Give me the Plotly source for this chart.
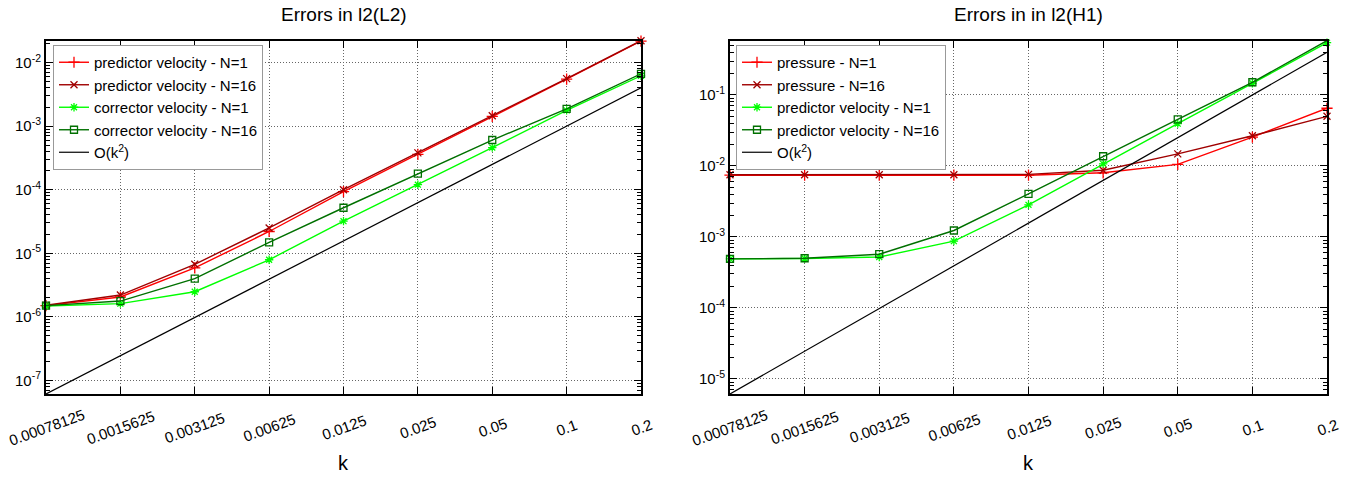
import numpy as np
import plotly.graph_objects as go

# ---------------- data ----------------
k = [0.00078125, 0.0015625, 0.003125, 0.00625, 0.0125, 0.025, 0.05, 0.1, 0.2]
k_labels = ["0.00078125", "0.0015625", "0.003125", "0.00625", "0.0125",
            "0.025", "0.05", "0.1", "0.2"]

# Errors in l2(L2)
l2_pred_n1 = [1.50e-6, 2.05e-6, 5.9e-6, 2.2e-5, 9.3e-5, 3.6e-4, 1.42e-3, 5.5e-3, 0.0218]
l2_pred_n16 = [1.52e-6, 2.2e-6, 6.7e-6, 2.5e-5, 1.0e-4, 3.8e-4, 1.46e-3, 5.6e-3, 0.0221]
l2_corr_n1 = [1.48e-6, 1.61e-6, 2.48e-6, 7.9e-6, 3.2e-5, 1.2e-4, 4.6e-4, 1.77e-3, 6.2e-3]
l2_corr_n16 = [1.50e-6, 1.77e-6, 4.0e-6, 1.48e-5, 5.2e-5, 1.79e-4, 6.05e-4, 1.87e-3, 6.65e-3]
l2_order = [6.1035e-8, 2.4414e-7, 9.7656e-7, 3.90625e-6, 1.5625e-5, 6.25e-5, 2.5e-4, 1.0e-3, 4.0e-3]

# Errors in l2(H1)
h1_pres_n1 = [7.4e-3, 7.4e-3, 7.4e-3, 7.4e-3, 7.4e-3, 8.0e-3, 0.0105, 0.0254, 0.065]
h1_pres_n16 = [7.5e-3, 7.5e-3, 7.5e-3, 7.5e-3, 7.6e-3, 8.7e-3, 0.0148, 0.0266, 0.050]
h1_pred_n1 = [4.9e-4, 4.95e-4, 5.2e-4, 8.7e-4, 2.83e-3, 0.0107, 0.0394, 0.146, 0.546]
h1_pred_n16 = [4.9e-4, 5.0e-4, 5.7e-4, 1.23e-3, 4.04e-3, 0.0137, 0.0454, 0.151, 0.582]
h1_order = [6.1035e-6, 2.4414e-5, 9.7656e-5, 3.90625e-4, 1.5625e-3, 6.25e-3, 0.025, 0.1, 0.4]

l2_ticks = [1e-7, 1e-6, 1e-5, 1e-4, 1e-3, 1e-2]
l2_ticktext = ["10<sup>-7</sup>", "10<sup>-6</sup>", "10<sup>-5</sup>", "10<sup>-4</sup>",
               "10<sup>-3</sup>", "10<sup>-2</sup>"]
h1_ticks = [1e-5, 1e-4, 1e-3, 1e-2, 1e-1]
h1_ticktext = ["10<sup>-5</sup>", "10<sup>-4</sup>", "10<sup>-3</sup>", "10<sup>-2</sup>",
               "10<sup>-1</sup>"]

# ---------------- style ----------------
FONT = "Liberation Sans, Arial, Helvetica, sans-serif"
RED = "#ff0000"
DARKRED = "#a00000"
GREEN = "#00ff00"
DARKGREEN = "#007000"

W, H = 1362, 479
left_dom = [46 / W, 641 / W]
right_dom = [730 / W, 1327 / W]
y_dom = [(H - 394) / H, (H - 40.7) / H]

fig = go.Figure()


def add(x, y, name, color, symbol, xa, ya, legend, msize=8, lw=1.4):
    fig.add_trace(go.Scatter(
        x=x, y=y, name=name, mode="lines+markers" if symbol else "lines",
        line=dict(color=color, width=lw),
        marker=dict(symbol=symbol or "circle", size=msize, color=color,
                    line=dict(color=color, width=1.3)),
        xaxis=xa, yaxis=ya, legend=legend, cliponaxis=False))


add(k, l2_pred_n1, "predictor velocity - N=1", RED, "cross-thin-open", "x", "y", "legend")
add(k, l2_pred_n16, "predictor velocity - N=16", DARKRED, "x-thin-open", "x", "y", "legend", msize=7)
add(k, l2_corr_n1, "corrector velocity - N=1", GREEN, "asterisk-open", "x", "y", "legend", msize=7)
add(k, l2_corr_n16, "corrector velocity - N=16", DARKGREEN, "square-open", "x", "y", "legend", msize=7)
add(k, l2_order, "O(k<sup>2</sup>)", "black", None, "x", "y", "legend", lw=1.2)

add(k, h1_pres_n1, "pressure - N=1", RED, "cross-thin-open", "x2", "y2", "legend2")
add(k, h1_pres_n16, "pressure - N=16", DARKRED, "x-thin-open", "x2", "y2", "legend2", msize=7)
add(k, h1_pred_n1, "predictor velocity - N=1", GREEN, "asterisk-open", "x2", "y2", "legend2", msize=7)
add(k, h1_pred_n16, "predictor velocity - N=16", DARKGREEN, "square-open", "x2", "y2", "legend2", msize=7)
add(k, h1_order, "O(k<sup>2</sup>)", "black", None, "x2", "y2", "legend2", lw=1.2)

xr = [np.log10(min(k)), np.log10(max(k))]
l2_all = l2_pred_n1 + l2_pred_n16 + l2_corr_n1 + l2_corr_n16 + l2_order
h1_all = h1_pres_n1 + h1_pres_n16 + h1_pred_n1 + h1_pred_n16 + h1_order
yr1 = [np.log10(min(l2_all)), np.log10(max(l2_all))]
yr2 = [np.log10(min(h1_all)), np.log10(max(h1_all))]


def minor_vals(lo, hi):
    vals = []
    for e in range(int(np.floor(lo)), int(np.ceil(hi)) + 1):
        for m in range(2, 10):
            vals.append(m * 10.0 ** e)
    return vals


GRID = dict(showgrid=True, gridcolor="#666666", gridwidth=1, griddash="1px,2px")

common_x = dict(type="log", range=xr, tickmode="array", tickvals=k, showticklabels=False,
                ticks="inside", ticklen=7, tickcolor="black", showline=True,
                linecolor="black", linewidth=2, mirror="allticks",
                zeroline=False, **GRID)


def yaxis(rng, tv, tt, anchor):
    return dict(type="log", range=rng, tickmode="array", tickvals=tv, ticktext=tt,
                ticks="inside", ticklen=7, tickcolor="black", showline=True,
                linecolor="black", linewidth=2, mirror="allticks",
                zeroline=False, anchor=anchor, domain=y_dom,
                tickfont=dict(family=FONT, size=15, color="black"),
                minor=dict(tickmode="array", tickvals=minor_vals(*rng), ticks="inside",
                           ticklen=4, tickcolor="black", showgrid=False),
                **GRID)


legend_style = dict(bgcolor="white", bordercolor="#999999", borderwidth=1,
                    font=dict(family=FONT, size=15, color="black"),
                    xanchor="left", yanchor="top", tracegroupgap=0, itemwidth=30)

fig.update_layout(
    width=W, height=H,
    margin=dict(l=0, r=0, t=0, b=0),
    paper_bgcolor="white", plot_bgcolor="white",
    font=dict(family=FONT, color="black", size=15),
    xaxis=dict(common_x, domain=left_dom, anchor="y"),
    yaxis=yaxis(yr1, l2_ticks, l2_ticktext, "x"),
    xaxis2=dict(common_x, domain=right_dom, anchor="y2"),
    yaxis2=yaxis(yr2, h1_ticks, h1_ticktext, "x2"),
    legend=dict(legend_style, x=53 / W, y=1 - 45 / H),
    legend2=dict(legend_style, x=736 / W, y=1 - 45 / H),
    showlegend=True,
)

annotations = []
for xa, dom, title in (("x", left_dom, "Errors in l2(L2)"), ("x2", right_dom, "Errors in in l2(H1)")):
    cx = (dom[0] + dom[1]) / 2
    annotations.append(dict(text=title, x=cx, y=1 - 15 / H, xref="paper", yref="paper",
                            showarrow=False, xanchor="center", yanchor="middle",
                            font=dict(family=FONT, size=19, color="black")))
    annotations.append(dict(text="k", x=cx, y=1 - 463 / H, xref="paper", yref="paper",
                            showarrow=False, xanchor="center", yanchor="middle",
                            font=dict(family=FONT, size=20, color="black")))
    for val, lab in zip(k, k_labels):
        annotations.append(dict(text=lab, x=np.log10(val), y=1 - 427 / H, xref=xa,
                                yref="paper", showarrow=False, textangle=-20,
                                xanchor="center", yanchor="middle",
                                font=dict(family=FONT, size=15, color="black")))
fig.update_layout(annotations=annotations)

fig.write_html("out.html")
